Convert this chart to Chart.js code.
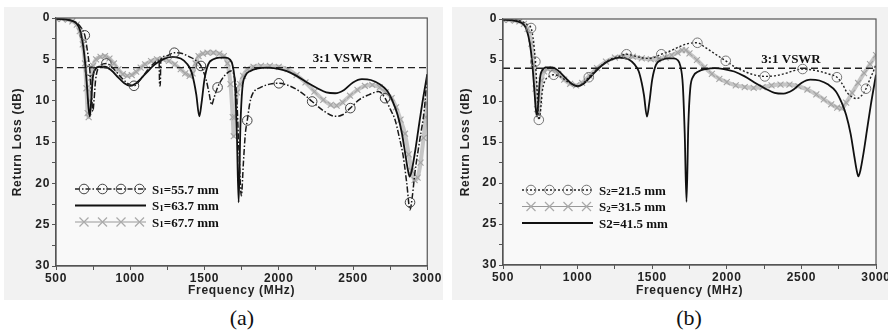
<!DOCTYPE html>
<html>
<head>
<meta charset="utf-8">
<script src="https://cdn.jsdelivr.net/npm/chart.js@4.4.1/dist/chart.umd.min.js"></script>
<style>
body { margin: 0; width: 888px; height: 331px; overflow: hidden; background: #fff; position: relative; }
.panel { position: absolute; top: 7px; height: 293px; overflow: hidden; background: #f2f2f2; }
.panel canvas { display: block; }
#boxA { left: 4px; width: 439px; }
#boxB { left: 452px; width: 436px; }
.cap { position: absolute; top: 305px; width: 80px; text-align: center; line-height: 26px;
       font-family: "Liberation Serif", "Times New Roman", serif; font-size: 22px; color: #111; }
</style>
</head>
<body>
<div class="panel" id="boxA"><canvas id="chartA" width="439" height="293"></canvas></div>
<div class="panel" id="boxB"><canvas id="chartB" width="450" height="293"></canvas></div>
<div class="cap" style="left:202px">(a)</div>
<div class="cap" style="left:649px">(b)</div>
<script>
// reference antenna (S1=63.7 mm in (a), S2=41.5 mm in (b)) - frequency MHz / return loss dB
const refFreq = [500, 550, 600, 640, 660, 680, 695, 710, 720, 728, 736, 748, 765, 790, 830, 870, 920, 960, 1000, 1040,
  1100, 1160, 1220, 1280, 1340, 1380, 1410, 1430, 1445, 1465, 1480, 1500, 1525, 1560, 1600, 1640, 1670, 1690, 1705, 1718,
  1730, 1742, 1755, 1775, 1810, 1860, 1920, 1980, 2050, 2120, 2200, 2260, 2320, 2380, 2440, 2500, 2560, 2620, 2680, 2730,
  2770, 2800, 2830, 2855, 2870, 2882, 2895, 2915, 2940, 2965, 3000];
const refLoss = [0.1, 0.15, 0.3, 0.7, 1.4, 3.0, 5.2, 8.6, 11.0, 11.9, 10.3, 7.2, 6.2, 5.9, 5.9, 6.3, 7.2, 7.9, 8.2, 7.9,
  6.8, 5.7, 5.0, 4.7, 4.9, 5.5, 6.4, 7.8, 9.3, 11.9, 10.3, 7.4, 5.6, 5.0, 4.8, 4.8, 5.0, 5.8, 8.0, 14.0,
  22.3, 13.0, 8.5, 7.0, 6.4, 6.1, 6.0, 6.1, 6.4, 7.0, 7.9, 8.5, 9.0, 9.1, 8.7, 7.8, 7.4, 7.5, 8.0, 8.8,
  10.2, 11.7, 14.0, 16.8, 18.4, 19.2, 18.5, 16.5, 13.5, 10.5, 6.8];

// (a) S1=55.7 mm
const s557Freq = [500, 600, 640, 670, 694, 710, 728, 740, 748, 756, 766, 790, 839, 880, 940, 990, 1025, 1070, 1130, 1180,
  1194, 1198, 1202, 1206, 1240, 1297, 1350, 1398, 1440, 1476, 1510, 1530, 1548, 1565, 1588, 1621, 1650, 1677, 1700, 1715,
  1732, 1748, 1762, 1775, 1788, 1805, 1823, 1878, 1940, 2001, 2070, 2135, 2180, 2225, 2300, 2381, 2430, 2482, 2540, 2605,
  2672, 2716, 2750, 2783, 2810, 2839, 2862, 2884, 2900, 2917, 2950, 2980, 3000];
const s557Loss = [0.1, 0.3, 0.6, 1.2, 2.1, 3.8, 6.4, 9.5, 11.3, 10.0, 7.6, 5.9, 5.5, 6.0, 7.2, 8.0, 8.2, 7.4, 6.0, 5.2,
  5.1, 8.2, 8.2, 5.0, 4.6, 4.2, 4.3, 4.7, 5.1, 5.8, 7.4, 9.0, 10.5, 9.6, 8.4, 7.3, 6.7, 6.4, 7.0, 9.0,
  16.0, 21.5, 17.5, 14.0, 12.4, 10.3, 9.2, 8.4, 8.0, 7.9, 8.2, 8.8, 9.4, 10.1, 11.2, 11.9, 11.7, 10.9, 9.9, 9.3,
  8.9, 9.7, 11.0, 12.3, 14.3, 16.8, 20.0, 23.2, 21.5, 18.7, 14.7, 11.1, 6.7];
const s557MarkFreq = [694, 728, 839, 1025, 1297, 1476, 1588, 1788, 2001, 2225, 2482, 2716, 2884];
const s557MarkLoss = [2.1, 6.4, 5.5, 8.2, 4.2, 5.8, 8.4, 12.4, 7.9, 10.1, 10.9, 9.7, 22.3];

// (a) S1=67.7 mm
const s677Freq = [500, 540, 580, 610, 640, 660, 680, 695, 705, 713, 720, 728, 738, 750, 770, 800, 830, 860, 890, 920,
  950, 980, 1010, 1040, 1070, 1100, 1140, 1180, 1220, 1260, 1300, 1340, 1370, 1400, 1420, 1440, 1460, 1490, 1520, 1560,
  1600, 1630, 1655, 1675, 1690, 1697, 1705, 1720, 1740, 1760, 1790, 1830, 1880, 1940, 2000, 2060, 2120, 2180, 2240, 2300,
  2350, 2390, 2430, 2480, 2530, 2580, 2630, 2680, 2720, 2760, 2790, 2820, 2850, 2875, 2895, 2915, 2935, 2955, 2975, 2990, 3000];
const s677Loss = [0.1, 0.1, 0.2, 0.4, 0.8, 1.6, 3.2, 5.5, 8.5, 11.5, 12.0, 10.0, 7.2, 5.8, 5.0, 4.7, 4.6, 4.9, 5.5, 6.2,
  6.8, 7.0, 6.9, 6.5, 6.0, 5.6, 5.2, 5.0, 5.0, 5.2, 5.6, 6.2, 6.7, 7.0, 6.7, 5.5, 4.6, 4.3, 4.2, 4.2,
  4.3, 4.6, 5.5, 8.0, 12.0, 14.3, 12.0, 9.0, 8.0, 7.0, 6.2, 5.9, 5.8, 5.8, 5.9, 6.2, 6.9, 7.8, 8.9, 9.9,
  10.5, 10.6, 10.2, 9.4, 8.7, 8.2, 8.1, 8.4, 9.0, 9.7, 10.8, 12.3, 14.0, 16.5, 18.5, 19.6, 19.3, 17.5, 14.5, 12.0, 10.3];

// (b) S2=21.5 mm
const s215Freq = [500, 600, 640, 665, 688, 705, 717, 728, 740, 750, 762, 780, 810, 840, 880, 930, 970, 1000, 1040, 1090,
  1150, 1210, 1270, 1328, 1400, 1460, 1510, 1561, 1620, 1680, 1740, 1803, 1850, 1900, 1950, 1993, 2050, 2120, 2180, 2255,
  2330, 2400, 2450, 2508, 2570, 2625, 2680, 2738, 2780, 2803, 2840, 2870, 2900, 2933, 2960, 2980, 3000];
const s215Loss = [0.1, 0.2, 0.4, 0.7, 1.1, 2.8, 5.2, 8.5, 12.3, 11.5, 9.0, 7.6, 7.0, 6.8, 7.0, 7.6, 8.0, 8.2, 7.8, 6.8,
  5.8, 5.0, 4.6, 4.3, 4.6, 4.8, 4.7, 4.3, 3.9, 3.4, 3.0, 2.9, 3.4, 4.0, 4.6, 5.1, 5.8, 6.4, 6.8, 7.0,
  6.9, 6.6, 6.3, 6.1, 6.2, 6.4, 6.7, 7.1, 8.1, 8.9, 9.5, 9.7, 9.4, 8.5, 7.3, 6.5, 5.5];
const s215MarkFreq = [688, 717, 740, 840, 1075, 1328, 1561, 1803, 1993, 2255, 2508, 2738, 2933];
const s215MarkLoss = [1.1, 5.2, 12.3, 6.8, 7.1, 4.3, 4.3, 2.9, 5.1, 7.0, 6.1, 7.1, 8.5];

// (b) S2=31.5 mm
const s315Freq = [500, 540, 580, 610, 640, 665, 690, 705, 718, 728, 735, 745, 758, 775, 800, 830, 870, 910, 950, 990,
  1030, 1080, 1130, 1190, 1250, 1310, 1370, 1430, 1490, 1540, 1590, 1630, 1670, 1700, 1725, 1750, 1800, 1850, 1900, 1950,
  2000, 2060, 2120, 2180, 2240, 2300, 2360, 2420, 2480, 2540, 2600, 2650, 2700, 2740, 2770, 2800, 2840, 2880, 2920, 2960, 3000];
const s315Loss = [0.1, 0.12, 0.2, 0.3, 0.6, 1.2, 3.0, 5.5, 8.5, 11.0, 11.6, 10.0, 7.5, 6.4, 6.1, 6.2, 6.7, 7.4, 7.9, 8.1,
  7.8, 6.9, 6.0, 5.2, 4.7, 4.5, 4.6, 4.8, 4.9, 4.9, 4.7, 4.4, 4.1, 3.8, 3.8, 4.2, 5.0, 5.9, 6.7, 7.3,
  7.7, 8.1, 8.3, 8.4, 8.3, 8.1, 8.0, 8.0, 8.2, 8.6, 9.2, 9.8, 10.4, 10.8, 10.9, 10.2, 9.0, 7.8, 6.6, 5.5, 4.4];

// 3:1 VSWR limit
const vswrFreq = [500, 3000];
const vswrLoss = [6, 6];

function pts(xs, ys) {
  return xs.map((x, i) => ({ x: x, y: ys[i] }));
}

const sans = 'Liberation Sans, Arial, sans-serif';
const serif = 'Liberation Serif, Times New Roman, serif';

// background, frame, VSWR label and the legend
const panelPlugin = {
  id: 'panel',
  beforeUpdate(chart) {
    chart.ctx.letterSpacing = '0.7px';
  },
  beforeDraw(chart) {
    const ctx = chart.ctx, a = chart.chartArea;
    ctx.letterSpacing = '0.7px';
    ctx.save();
    ctx.fillStyle = '#f2f2f2';
    ctx.fillRect(0, 0, chart.width, chart.height);
    ctx.fillStyle = '#f9f9f9';
    ctx.fillRect(a.left, a.top, a.right - a.left, a.bottom - a.top);
    ctx.restore();
  },
  afterDraw(chart, args, opts) {
    const ctx = chart.ctx, a = chart.chartArea;
    const xs = chart.scales.x, ys = chart.scales.y;
    ctx.save();
    ctx.letterSpacing = '0px';
    ctx.strokeStyle = '#555';
    ctx.lineWidth = 1.2;
    ctx.setLineDash([]);
    ctx.strokeRect(a.left, a.top, a.right - a.left, a.bottom - a.top);

    ctx.fillStyle = '#111';
    ctx.font = 'bold 13px ' + serif;
    ctx.textAlign = 'center';
    ctx.textBaseline = 'middle';
    ctx.fillText('3:1 VSWR', xs.getPixelForValue(2430), ys.getPixelForValue(4.9));

    opts.rows.forEach((row, i) => {
      const y = a.top + 171 + i * 16.5;
      const x0 = a.left + 19, x1 = a.left + 90;
      ctx.save();
      ctx.beginPath();
      ctx.moveTo(x0, y);
      ctx.lineTo(x1, y);
      if (row.kind === 'solid') {
        ctx.strokeStyle = '#111'; ctx.lineWidth = 1.8;
      } else if (row.kind === 'cross') {
        ctx.strokeStyle = '#999'; ctx.lineWidth = 1;
      } else {
        ctx.strokeStyle = '#222'; ctx.lineWidth = 1.3;
        ctx.setLineDash(row.kind === 'dotted' ? [2, 2] : [5, 2, 1.5, 2]);
      }
      ctx.stroke();
      ctx.setLineDash([]);
      for (let k = 0; k < 4 && row.kind !== 'solid'; k++) {
        const mx = a.left + 28 + k * 18.5;
        ctx.beginPath();
        if (row.kind === 'cross') {
          ctx.strokeStyle = '#aaa'; ctx.lineWidth = 1.2;
          ctx.moveTo(mx - 4.5, y - 4.5); ctx.lineTo(mx + 4.5, y + 4.5);
          ctx.moveTo(mx - 4.5, y + 4.5); ctx.lineTo(mx + 4.5, y - 4.5);
        } else {
          ctx.strokeStyle = row.mark; ctx.lineWidth = 1;
          ctx.arc(mx, y, 4.8, 0, Math.PI * 2);
        }
        ctx.stroke();
      }
      ctx.restore();

      // label with small subscript
      let tx = a.left + 96;
      ctx.textAlign = 'left';
      ctx.textBaseline = 'alphabetic';
      ctx.font = 'bold 13px ' + serif;
      ctx.fillText(row.text[0], tx, y + 4.5);
      tx += ctx.measureText(row.text[0]).width;
      if (row.text[1]) {
        ctx.font = 'bold 9px ' + serif;
        ctx.fillText(row.text[1], tx, y + 5);
        tx += ctx.measureText(row.text[1]).width;
      }
      ctx.font = 'bold 13px ' + serif;
      ctx.fillText(row.text[2], tx, y + 4.5);
    });
    ctx.restore();
    ctx.letterSpacing = '0.7px';
  }
};

function makeScales(yWidth, xHeight) {
  const tickFont = { family: sans, size: 12, weight: 'bold' };
  return {
    x: {
      type: 'linear', min: 500, max: 3000,
      afterFit: s => { s.height = xHeight; },
      border: { color: '#555', width: 1.2 },
      grid: { drawOnChartArea: false, tickLength: 4, color: '#555' },
      ticks: {
        stepSize: 250, autoSkip: false, maxRotation: 0, padding: 1, color: '#222', font: tickFont,
        callback: v => (v % 500 === 0 ? v : '')
      },
      title: { display: true, text: 'Frequency (MHz)', color: '#222', font: tickFont, padding: { top: 0, bottom: 2 } }
    },
    y: {
      type: 'linear', min: 0, max: 30, reverse: true,
      afterFit: s => { s.width = yWidth; },
      border: { color: '#555', width: 1.2 },
      grid: { drawOnChartArea: false, tickLength: 4, color: '#555' },
      ticks: {
        stepSize: 2.5, autoSkip: false, padding: 2, color: '#222', font: tickFont,
        callback: v => (v % 5 === 0 ? v : '')
      },
      title: { display: true, text: 'Return Loss (dB)', color: '#222', font: tickFont, padding: { top: 6, bottom: 0 } }
    }
  };
}

function lineSet(xs, ys, color, width, dash) {
  return {
    data: pts(xs, ys), borderColor: color, borderWidth: width, borderDash: dash || [],
    pointRadius: 0, cubicInterpolationMode: 'monotone', fill: false
  };
}

function markSet(xs, ys, color) {
  return {
    data: pts(xs, ys), showLine: false, pointStyle: 'circle', pointRadius: 4.8,
    pointBackgroundColor: 'rgba(0,0,0,0)', pointBorderColor: color, pointBorderWidth: 1
  };
}

// the x-marked curves read as a wide grey band in the figure
function crossSet(xs, ys) {
  return {
    data: pts(xs, ys), borderColor: '#c6c6c6', borderWidth: 4, cubicInterpolationMode: 'monotone',
    pointStyle: 'crossRot', pointRadius: 4.2, pointBorderColor: '#a4a4a4', pointBorderWidth: 1.1
  };
}

function makeChart(id, datasets, rows, yWidth, xHeight, padding) {
  return new Chart(document.getElementById(id), {
    type: 'line',
    data: { datasets: datasets },
    options: {
      responsive: false,
      animation: false,
      layout: { padding: padding },
      plugins: { legend: { display: false }, tooltip: { enabled: false }, panel: { rows: rows } },
      scales: makeScales(yWidth, xHeight)
    },
    plugins: [panelPlugin]
  });
}

makeChart('chartA', [
  markSet(s557MarkFreq, s557MarkLoss, '#444'),
  lineSet(s557Freq, s557Loss, '#1a1a1a', 1.5, [6, 2, 1.5, 2]),
  lineSet(refFreq, refLoss, '#111', 1.8),
  lineSet(vswrFreq, vswrLoss, '#222', 1.4, [7, 4]),
  crossSet(s677Freq, s677Loss)
], [
  { kind: 'dashdot', mark: '#444', text: ['S', '1', '=55.7 mm'] },
  { kind: 'solid', text: ['S', '1', '=63.7 mm'] },
  { kind: 'cross', text: ['S', '1', '=67.7 mm'] }
], 52, 34, { top: 11, right: 14, left: 0, bottom: 0 });

makeChart('chartB', [
  markSet(s215MarkFreq, s215MarkLoss, '#777'),
  lineSet(s215Freq, s215Loss, '#222', 1.4, [2, 2]),
  lineSet(refFreq, refLoss, '#111', 1.8),
  lineSet(vswrFreq, vswrLoss, '#222', 1.4, [7, 4]),
  crossSet(s315Freq, s315Loss)
], [
  { kind: 'dotted', mark: '#777', text: ['S', '2', '=21.5 mm'] },
  { kind: 'cross', text: ['S', '2', '=31.5 mm'] },
  { kind: 'solid', text: ['S2', '', '=41.5 mm'] }
], 51, 35, { top: 12, right: 26, left: 0, bottom: 0 });
</script>
</body>
</html>
